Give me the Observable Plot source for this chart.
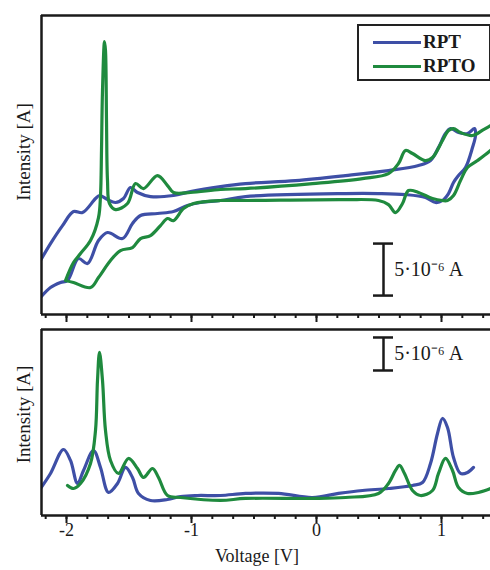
<!DOCTYPE html>
<html><head><meta charset="utf-8">
<script src="https://cdn.jsdelivr.net/npm/d3@7"></script>
<script src="https://cdn.jsdelivr.net/npm/@observablehq/plot@0.6"></script>
<style>
body{margin:0;background:#fff;}
#wrap{position:relative;width:490px;height:570px;overflow:hidden;font-family:"Liberation Serif",serif;background:#fff;}
#wrap svg{position:absolute;left:0;}
#legend{position:absolute;left:357px;top:24px;width:130px;height:53px;border:2px solid #222;background:#fff;}
#legend .row{position:absolute;left:0;height:20px;}
#legend .sw{position:absolute;left:14px;width:48px;height:0;border-top:3px solid;}
#legend .lb{position:absolute;left:64px;font-weight:bold;font-size:19px;color:#1a1a1a;line-height:20px;}
</style></head><body><div id="wrap"></div>
<script>
// Series names
const seriesNames = ["RPT", "RPTO"];
// Top panel: cyclic voltammograms (voltage V, current µA)
const rptTopV = [-2.208,-2.128,-2.032,-1.944,-1.872,-1.768,-1.736,-1.672,-1.608,-1.544,-1.488,-1.432,-1.328,-1.144,-1.008,-0.768,-0.568,-0.168,0.232,0.576,0.816,0.912,0.976,1.032,1.072,1.136,1.208,1.264,
  1.272,1.248,1.192,1.136,1.096,1.056,1.008,0.952,0.872,0.712,0.496,0.232,-0.568,-0.768,-0.928,-1.032,-1.144,-1.272,-1.408,-1.472,-1.552,-1.672,-1.744,-1.832,-1.904,-1.992,-2.048,-2.128,-2.208];
const rptTopI = [-7.21,-5.58,-3.85,-2.50,-2.60,-1.25,-0.96,-1.35,-1.63,-1.25,-0.19,-0.67,-1.06,-0.96,-0.58,-0.10,0.19,0.48,0.96,1.44,1.92,2.40,3.65,5.00,5.48,5.10,5.00,5.48,
  4.81,3.65,1.73,0.96,0.29,-0.77,-1.44,-1.63,-1.15,-0.87,-0.77,-0.77,-1.06,-1.44,-1.63,-1.92,-2.50,-2.69,-2.88,-3.65,-5.10,-4.52,-5.29,-7.50,-7.02,-9.13,-9.33,-9.81,-10.77];
const rptoTopV = [-2.008,-1.944,-1.888,-1.808,-1.744,-1.728,-1.72,-1.712,-1.696,-1.688,-1.68,-1.672,-1.656,-1.608,-1.512,-1.448,-1.384,-1.272,-1.192,-1.144,-1.008,-0.768,-0.568,-0.032,0.368,0.576,0.656,0.712,0.768,0.872,0.928,1.008,1.056,1.096,1.152,1.248,1.336,1.392,1.472,
  1.472,1.392,1.288,1.208,1.152,1.096,1.048,1.008,0.928,0.816,0.736,0.688,0.632,0.576,0.496,0.232,-0.568,-0.768,-0.984,-1.064,-1.144,-1.192,-1.248,-1.328,-1.408,-1.472,-1.568,-1.648,-1.744,-1.808,-1.944,-2.008];
const rptoTopI = [-9.13,-7.40,-6.54,-5.29,-3.08,-0.96,3.37,9.13,13.85,12.98,6.25,0.48,-1.73,-2.31,-1.73,0.19,-0.29,0.96,0,-0.67,-0.67,-0.38,-0.29,0.19,0.67,1.15,2.12,3.37,3.08,2.40,2.69,4.33,5.29,5.48,5.10,4.81,5.38,5.77,6.44,
  4.33,3.37,2.40,1.73,0.48,-0.96,-1.44,-1.44,-1.25,-0.67,-0.48,-1.73,-2.60,-1.83,-1.44,-1.35,-1.44,-1.44,-1.73,-2.21,-3.37,-3.17,-3.85,-4.81,-5.10,-5.96,-6.25,-7.21,-8.85,-9.81,-9.33,-9.13];
// Bottom panel: differential pulse voltammograms (voltage V, current µA)
const rptBotV = [-2.208,-2.128,-2.024,-1.968,-1.912,-1.864,-1.784,-1.728,-1.664,-1.592,-1.528,-1.472,-1.424,-1.328,-1.192,-1.088,-0.952,-0.768,-0.568,-0.304,-0.032,0.176,0.368,0.576,0.768,0.848,0.912,0.968,1.008,1.048,1.096,1.152,1.208,1.256];
const rptBotI = [1.36,3.64,7.27,5.61,2.12,4.09,7.12,4.55,0.76,2.12,4.55,3.03,0.61,-0.45,-0.30,0.15,0.30,0.30,0.61,0.61,0,0.61,1.06,1.36,1.82,2.27,5.15,9.70,11.97,10.61,6.06,3.64,3.79,4.55];
const rptoBotV = [-1.992,-1.944,-1.888,-1.808,-1.768,-1.752,-1.736,-1.712,-1.688,-1.648,-1.584,-1.504,-1.432,-1.384,-1.312,-1.264,-1.192,-1.088,-0.768,-0.568,-0.032,0.232,0.496,0.576,0.632,0.664,0.704,0.768,0.832,0.928,0.976,1.032,1.088,1.136,1.208,1.296,1.392];
const rptoBotI = [1.82,1.36,2.12,5.15,10.15,17.73,21.97,17.73,10.15,5.61,3.64,5.91,4.39,3.03,4.39,3.03,0.30,0,-0.45,-0.15,-0.15,0,0.61,2.12,4.09,4.85,3.64,1.06,0.30,1.06,3.64,5.91,4.09,1.52,0.61,0.76,1.36];
// Axis ticks
const majorTicks = [-2, -1, 0, 1];
const minorTicks = d3.range(-13, 9).map(k => k / 6);
// Scale bar (5 µA) annotations
const scaleBarLabel = "5·10⁻⁶ A";
const scaleBarStep = 5;
const topScaleBar = {v: 0.536, lo: -10.58};
const botScaleBar = {v: 0.536, lo: 19.24};

const xDomain = [-2.2, 1.392];
const topDomain = [-12.40, 16.35];
const botDomain = [-2.73, 25.45];
const BLUE = "#3e4fa6", GREEN = "#1f8a3e", INK = "#1a1a1a";

const zip = (V, I) => V.map((v, k) => ({v, i: I[k]}));
const rptTop = zip(rptTopV, rptTopI), rptoTop = zip(rptoTopV, rptoTopI);
const rptBot = zip(rptBotV, rptBotI), rptoBot = zip(rptoBotV, rptoBotI);

function frameMarks(dom) {
  return [
    Plot.ruleY([dom[1]], {stroke: INK, strokeWidth: 2.5}),
    Plot.ruleY([dom[0]], {stroke: INK, strokeWidth: 2.5}),
    Plot.ruleX([xDomain[0]], {stroke: INK, strokeWidth: 2.5})
  ];
}
function scaleBarMarks(sb) {
  const hi = sb.lo + scaleBarStep;
  return [
    Plot.ruleX([sb.v], {y1: sb.lo, y2: hi, stroke: INK, strokeWidth: 2.5}),
    Plot.ruleY([sb.lo, hi], {x1: sb.v - 0.08, x2: sb.v + 0.08, stroke: INK, strokeWidth: 2.5}),
    Plot.text([scaleBarLabel], {x: sb.v + 0.085, y: sb.lo + scaleBarStep / 2, textAnchor: "start", fontSize: 20, fill: INK})
  ];
}
const lineOpts = (color) => ({x: "v", y: "i", stroke: color, strokeWidth: 3.2, curve: "catmull-rom", clip: true});

const topPlot = Plot.plot({
  width: 490, height: 324, marginLeft: 41, marginRight: 0, marginTop: 15, marginBottom: 10,
  style: {background: "none", overflow: "visible", fontFamily: "Liberation Serif", color: INK},
  x: {domain: xDomain},
  y: {domain: topDomain, axis: null},
  marks: [
    Plot.axisX({ticks: minorTicks, tickSize: 4, tickFormat: () => "", strokeWidth: 2, label: null}),
    Plot.axisX({ticks: majorTicks, tickSize: 8, tickFormat: () => "", strokeWidth: 2, label: null}),
    Plot.line(rptTop, lineOpts(BLUE)),
    Plot.line(rptoTop, lineOpts(GREEN)),
    ...scaleBarMarks(topScaleBar),
    ...frameMarks(topDomain),
    Plot.text(["Intensity [A]"], {frameAnchor: "left", rotate: -90, textAnchor: "middle", lineAnchor: "middle", dx: -18, dy: -13, fontSize: 19, fill: INK})
  ]
});
topPlot.style.top = "0px";

const botPlot = Plot.plot({
  width: 490, height: 246, marginLeft: 41, marginRight: 0, marginTop: 5, marginBottom: 55,
  style: {background: "none", overflow: "visible", fontFamily: "Liberation Serif", color: INK},
  x: {domain: xDomain},
  y: {domain: botDomain, axis: null},
  marks: [
    Plot.axisX({ticks: minorTicks, tickSize: 4, tickFormat: () => "", strokeWidth: 2, label: null}),
    Plot.axisX({ticks: majorTicks, tickSize: 8, tickPadding: 0, tickFormat: d => String(d), fontSize: 18, strokeWidth: 2, label: null}),
    Plot.line(rptBot, lineOpts(BLUE)),
    Plot.line(rptoBot, lineOpts(GREEN)),
    ...scaleBarMarks(botScaleBar),
    ...frameMarks(botDomain),
    Plot.text(["Intensity [A]"], {frameAnchor: "left", rotate: -90, textAnchor: "middle", lineAnchor: "middle", dx: -18, dy: -8, fontSize: 19, fill: INK}),
    Plot.text(["Voltage [V]"], {frameAnchor: "bottom", textAnchor: "middle", lineAnchor: "middle", dx: -9, dy: 41, fontSize: 18, fill: INK})
  ]
});
botPlot.style.top = "324px";

const wrap = document.getElementById("wrap");
wrap.appendChild(topPlot);
wrap.appendChild(botPlot);

// Legend
const legend = document.createElement("div");
legend.id = "legend";
[BLUE, GREEN].forEach((c, k) => {
  const row = document.createElement("div");
  row.className = "row";
  row.style.top = (6 + k * 24) + "px";
  row.style.width = "100%";
  const sw = document.createElement("div");
  sw.className = "sw"; sw.style.borderColor = c; sw.style.top = "9px";
  const lb = document.createElement("div");
  lb.className = "lb"; lb.textContent = seriesNames[k];
  row.appendChild(sw); row.appendChild(lb);
  legend.appendChild(row);
});
wrap.appendChild(legend);
</script>
</body></html>
